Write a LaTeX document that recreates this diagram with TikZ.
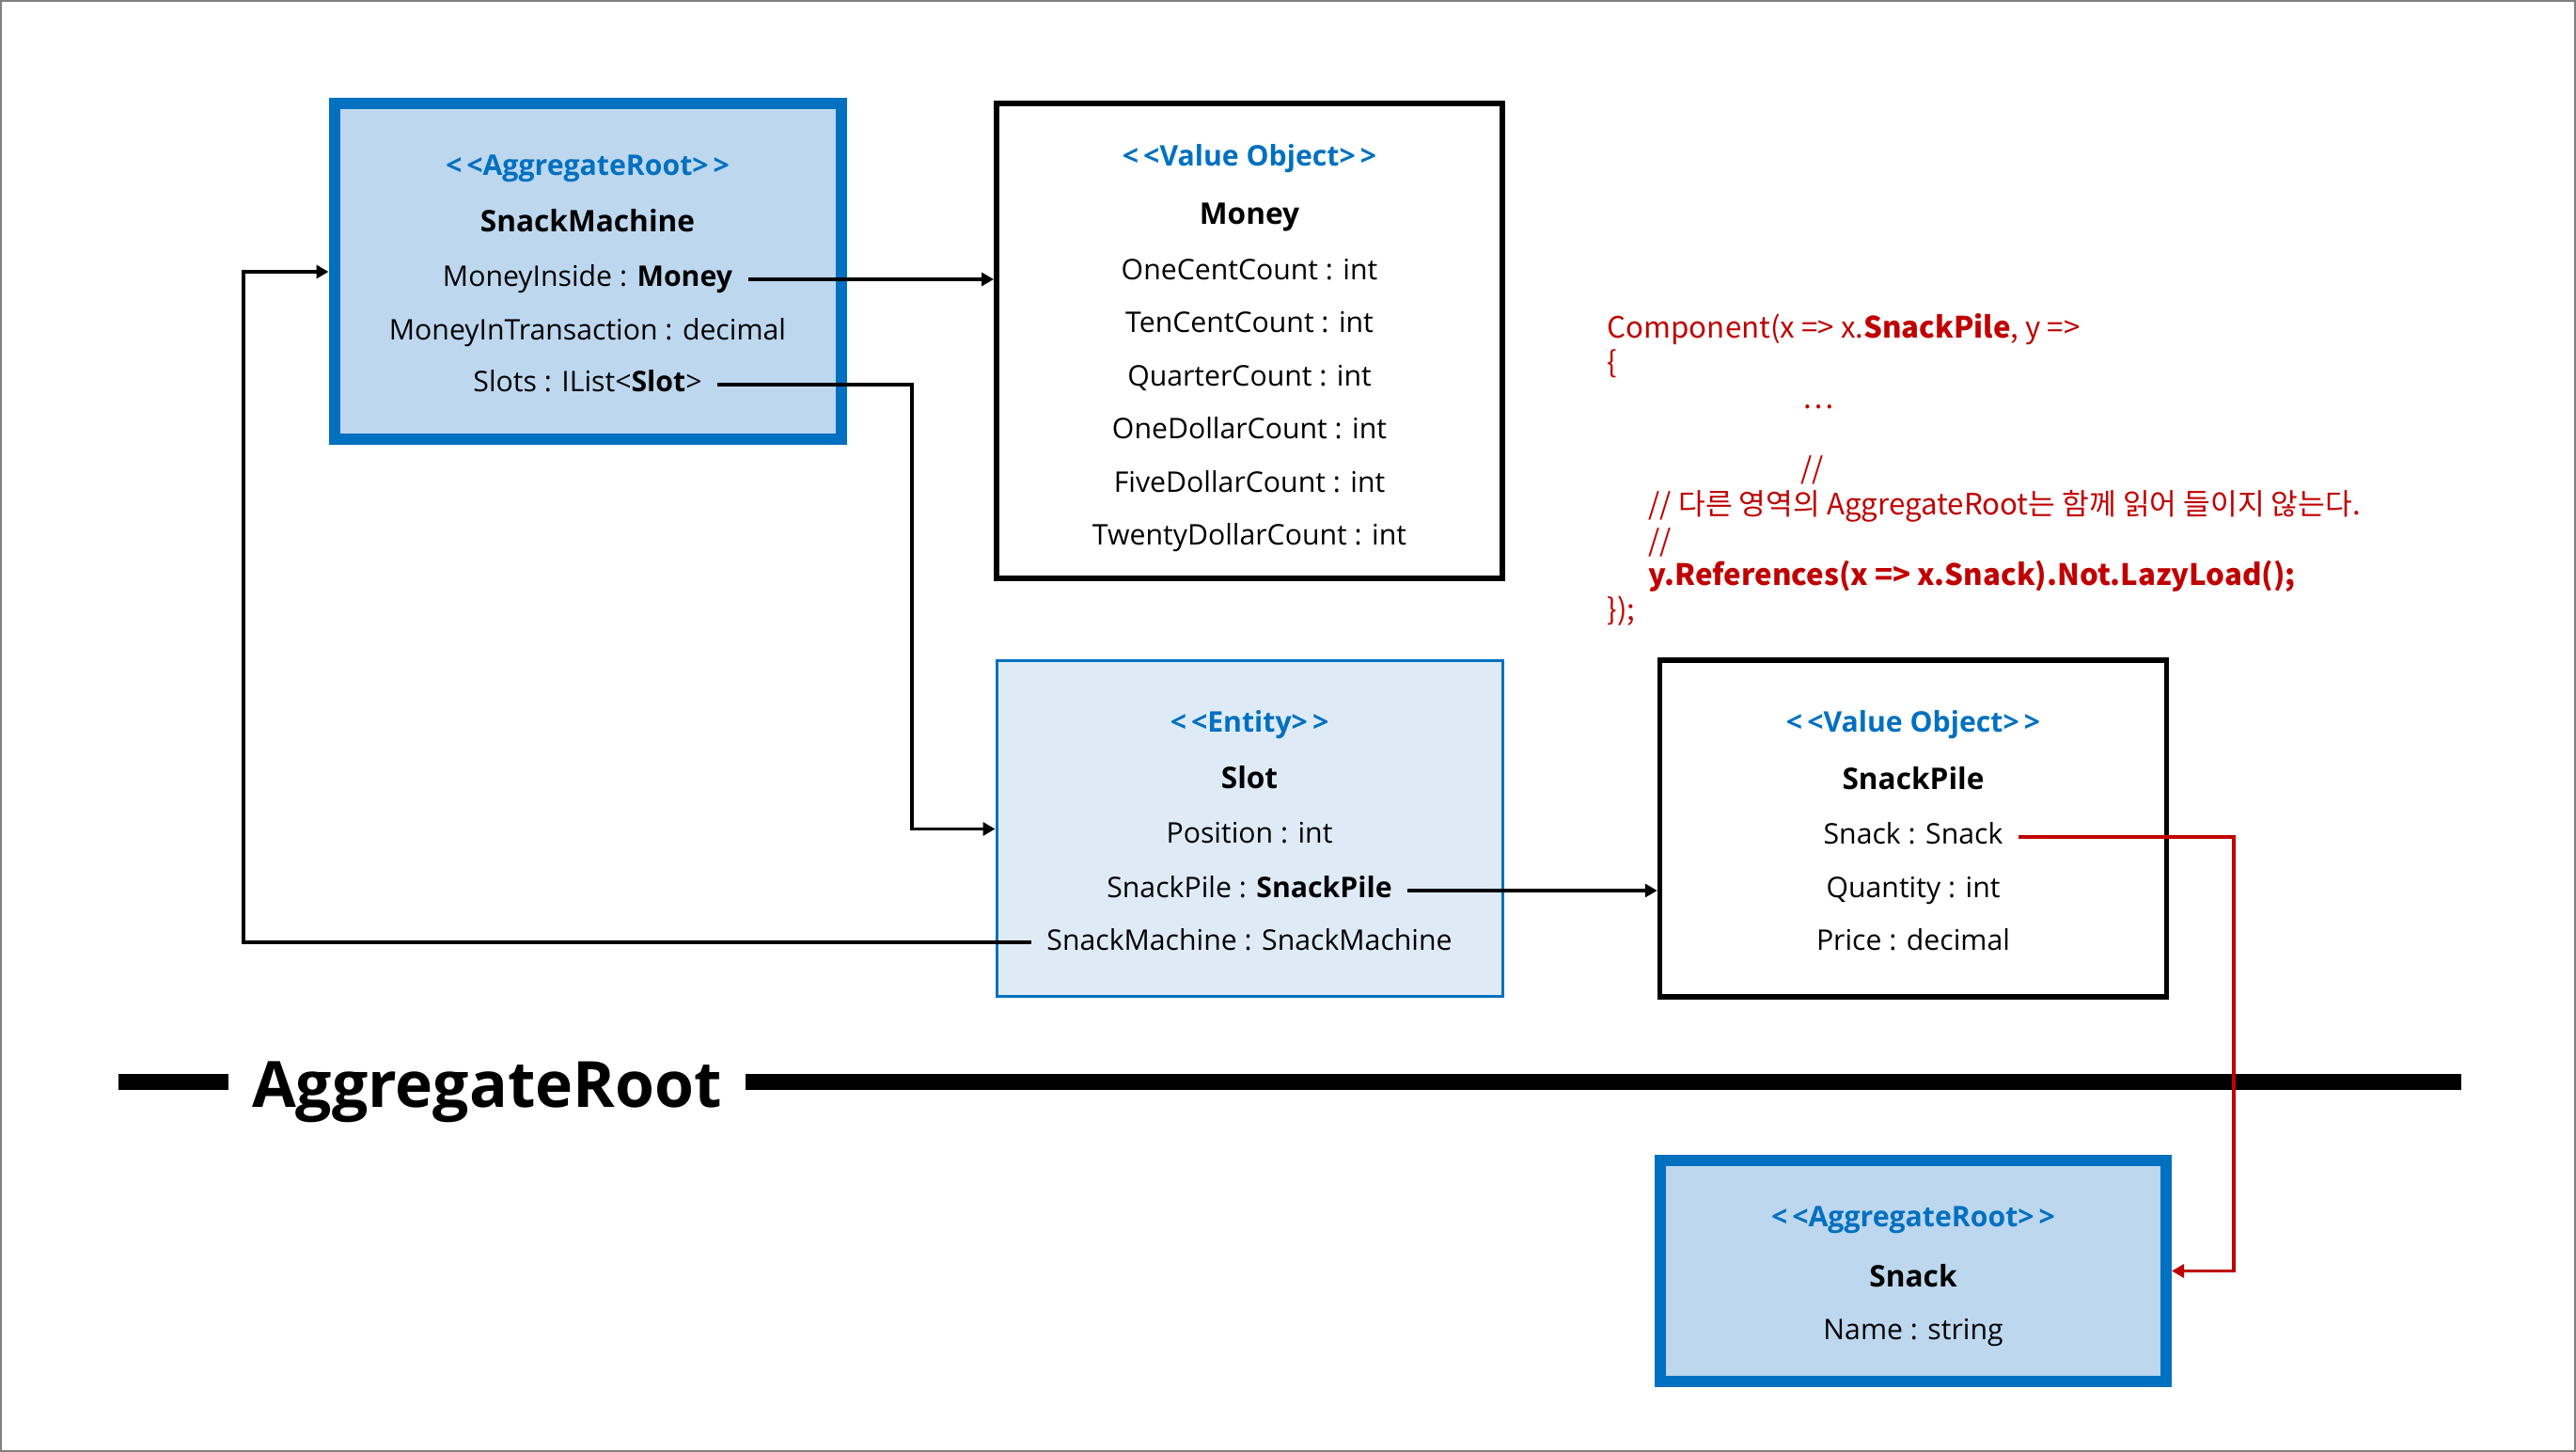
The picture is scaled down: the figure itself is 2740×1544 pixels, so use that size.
\documentclass[tikz,border=0pt]{standalone}
\usepackage{fontspec}
\setmainfont{Open Sans}
\newfontfamily\codefont{Noto Sans CJK KR}
\usepackage{tikz}
\usetikzlibrary{arrows.meta}

\definecolor{stereoblue}{HTML}{0070C0}
\definecolor{rootfill}{HTML}{BDD7EE}
\definecolor{entityfill}{HTML}{DEEBF7}
\definecolor{codered}{HTML}{C00000}

\tikzset{
  rootbox/.style={draw=stereoblue, fill=rootfill, line width=1.2mm, inner sep=0pt},
  valuebox/.style={draw=black, line width=0.6mm, inner sep=0pt},
  entitybox/.style={draw=stereoblue, fill=entityfill, line width=0.3mm, inner sep=0pt},
  stereo/.style={anchor=base, inner sep=0pt, text=stereoblue, font=\fontsize{8.6}{10}\selectfont\bfseries},
  classname/.style={anchor=base, inner sep=0pt, font=\fontsize{9}{11}\selectfont\bfseries},
  field/.style={anchor=base, inner xsep=1.6mm, inner ysep=0pt, text height=2.4mm, text depth=0.8mm, font=\fontsize{8.6}{10}\selectfont},
  codeline/.style={anchor=base west, inner sep=0pt, text=codered, font=\codefont\fontsize{8.9}{10}\selectfont},
  link/.style={line width=0.35mm, -{Triangle[length=1.3mm,width=1.4mm]}},
}

\begin{document}
\begin{tikzpicture}[x=0.1mm, y=-0.1mm]
\useasboundingbox (0,0) rectangle (2740,1544);
\draw[gray, line width=0.2mm] (1,1) rectangle (2739,1543);

% SnackMachine
\node[rootbox, minimum width=53.9mm, minimum height=35.7mm] (sm) at (625,289) {};
\node[stereo] (smStereo) at (625,187) {<\,<AggregateRoot>\,>};
\node[classname] (smName) at (625,247) {SnackMachine};
\node[field] (smInside) at (625,305) {MoneyInside : \textbf{Money}};
\node[field] (smTrans) at (625,362) {MoneyInTransaction : decimal};
\node[field] (smSlots) at (625,417) {Slots : IList<\textbf{Slot}>};

% Money
\node[valuebox, minimum width=53.8mm, minimum height=50.5mm] (money) at (1329,362.5) {};
\node[stereo] (moneyStereo) at (1329,177) {<\,<Value Object>\,>};
\node[classname] (moneyName) at (1329,239) {Money};
\foreach \coin [count=\i] in {OneCent,TenCent,Quarter,OneDollar,FiveDollar,TwentyDollar}
  \node[field] (money\i) at (1329,{241+56.5*\i}) {\coin Count : int};

% Slot
\node[entitybox, minimum width=53.8mm, minimum height=35.7mm] (slot) at (1329,881.5) {};
\node[stereo] (slotStereo) at (1329,779) {<\,<Entity>\,>};
\node[classname] (slotName) at (1329,839) {Slot};
\node[field] (slotPos) at (1329,897) {Position : int};
\node[field] (slotPile) at (1329,955) {SnackPile : \textbf{SnackPile}};
\node[field] (slotMachine) at (1329,1010) {SnackMachine : SnackMachine};

% SnackPile
\node[valuebox, line width=0.55mm, minimum width=53.9mm, minimum height=35.8mm] (pile) at (2035,881) {};
\node[stereo] (pileStereo) at (2035,779) {<\,<Value Object>\,>};
\node[classname] (pileName) at (2035,840) {SnackPile};
\node[field] (pileSnack) at (2035,898) {Snack : Snack};
\node[field] (pileQty) at (2035,955) {Quantity : int};
\node[field] (pilePrice) at (2035,1011) {Price : decimal};

% Snack
\node[rootbox, minimum width=53.8mm, minimum height=23.5mm] (snack) at (2035,1351.5) {};
\node[stereo] (snackStereo) at (2035,1304) {<\,<AggregateRoot>\,>};
\node[classname] (snackName) at (2035,1368) {Snack};
\node[field] (snackField) at (2035,1424) {Name : string};

% mapping code
\node[codeline] (code1) at (1709,360) {Component(x => x.\textbf{SnackPile}, y =>};
\node[codeline] (code2) at (1709,397) {\{};
\node[codeline] (code3) at (1917,435) {\ldots};
\node[codeline] (code4) at (1915,510) {//};
\node[codeline] (code5) at (1753,548) {// 다른 영역의 AggregateRoot는 함께 읽어 들이지 않는다.};
\node[codeline] (code6) at (1753,587) {//};
\node[codeline] (code7) at (1753,623) {\textbf{y.References(x => x.Snack).Not.LazyLoad();}};
\node[codeline] (code8) at (1709,660) {\});};

% aggregate boundary
\node[anchor=base, inner xsep=2.4mm, font=\fontsize{19.3}{22}\selectfont\bfseries] (band) at (518,1177) {AggregateRoot};
\coordinate (bandL) at (126,1150);
\coordinate (bandR) at (2618,1150);
\draw[line width=1.7mm] (bandL) -- (band.west |- bandL);
\draw[line width=1.7mm] (band.east |- bandR) -- (bandR);

% links
\coordinate (bendA) at (970,881.5);
\coordinate (bendB) at (259,289);
\coordinate (bendC) at (2376,1351.5);
\draw[link] (smInside.east) -- (smInside.east -| money.west);
\draw[link] (smSlots.east) -| (bendA) -- (slot.west);
\draw[link] (slotPile.east) -- (slotPile.east -| pile.west);
\draw[link] (slotMachine.west) -| (bendB) -- (sm.west);
\draw[link, codered] (pileSnack.east) -| (bendC) -- (snack.east);
\end{tikzpicture}
\end{document}
